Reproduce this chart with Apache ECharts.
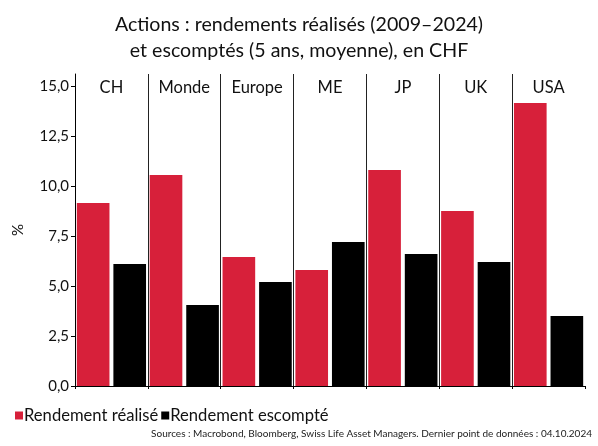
<!DOCTYPE html>
<html>
<head>
    <meta charset="utf-8">
    <title>Actions : rendements réalisés et escomptés</title>
    <script src="https://cdn.jsdelivr.net/npm/echarts@6.0.0/dist/echarts.min.js"></script>
    <style>
        html, body { margin: 0; padding: 0; background: #fff; }
        #main { width: 598px; height: 446px; }
    </style>
</head>
<body>
    <div id="main"></div>
    <script>
        // Données
        const regions = ['CH', 'Monde', 'Europe', 'ME', 'JP', 'UK', 'USA'];
        const realise = [9.15, 10.55, 6.45, 5.8, 10.8, 8.75, 14.15];
        const escompte = [6.1, 4.05, 5.2, 7.2, 6.6, 6.2, 3.5];
        const yTicks = [0, 2.5, 5, 7.5, 10, 12.5, 15];

        const fontFamily = 'Lato, "Open Sans", sans-serif';
        const chart = echarts.init(document.getElementById('main'));

        const option = {
            textStyle: { fontFamily: fontFamily },
            title: [{
                text: 'Actions : rendements réalisés (2009–2024)\net escomptés (5 ans, moyenne), en CHF',
                left: 'center',
                top: 7,
                textStyle: { fontSize: 19.6, fontWeight: 'normal', color: '#111', lineHeight: 26, fontFamily: fontFamily }
            }, {
                text: 'Sources : Macrobond, Bloomberg, Swiss Life Asset Managers. Dernier point de données : 04.10.2024',
                right: 1,
                bottom: 2,
                textStyle: { fontSize: 10, fontWeight: 'normal', color: '#222', fontFamily: fontFamily }
            }],
            legend: {
                left: 10,
                top: 402,
                itemWidth: 8,
                itemHeight: 8,
                itemGap: 3,
                icon: 'rect',
                textStyle: { fontSize: 16.6, color: '#111', padding: [0, 0, 0, -4] },
                data: ['Rendement réalisé', 'Rendement escompté']
            },
            grid: { left: 75, right: 13, top: 74, bottom: 60 },
            xAxis: [{
                type: 'category',
                data: regions,
                position: 'bottom',
                axisLine: { lineStyle: { color: '#000', width: 1 } },
                axisTick: { show: true, length: 3, lineStyle: { color: '#000' } },
                axisLabel: { show: false },
                splitLine: { show: true, showMinLine: false, showMaxLine: false, lineStyle: { color: '#222', width: 1 } }
            }, {
                type: 'category',
                data: regions,
                position: 'top',
                axisLine: { show: false },
                axisTick: { show: false },
                axisLabel: { inside: true, margin: 5, fontSize: 16.5, color: '#111' },
                splitLine: { show: false }
            }],
            yAxis: {
                type: 'value',
                min: 0,
                max: 15.6,
                name: '%',
                nameLocation: 'middle',
                nameGap: 49,
                nameTextStyle: { fontSize: 15, color: '#111' },
                axisLine: { show: true, lineStyle: { color: '#000', width: 1 } },
                axisTick: { show: true, length: 4, lineStyle: { color: '#000' }, customValues: yTicks },
                axisLabel: {
                    fontSize: 15,
                    color: '#111',
                    margin: 6,
                    customValues: yTicks,
                    formatter: v => v.toFixed(1).replace('.', ',')
                },
                splitLine: { show: false }
            },
            series: [{
                name: 'Rendement réalisé',
                type: 'bar',
                data: realise,
                barCategoryGap: '5%',
                barGap: '12%',
                itemStyle: { color: '#d7203a' }
            }, {
                name: 'Rendement escompté',
                type: 'bar',
                data: escompte,
                itemStyle: { color: '#000' }
            }]
        };

        chart.setOption(option);
    </script>
</body>
</html>
